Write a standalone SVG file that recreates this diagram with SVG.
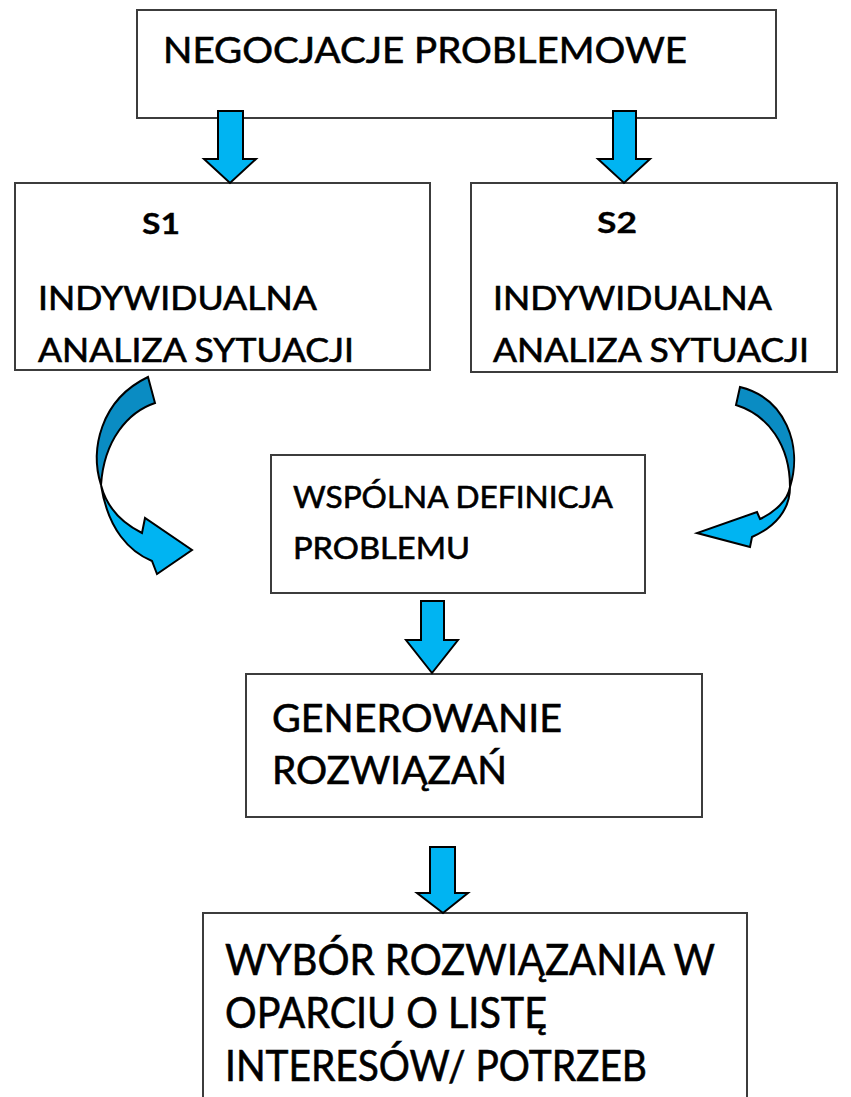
<svg xmlns="http://www.w3.org/2000/svg" width="851" height="1097" viewBox="0 0 851 1097">
<style>
.box{fill:#fff;stroke:#3c3c3c;stroke-width:2}
.t{font-family:Lato,"Open Sans","Liberation Sans",sans-serif;fill:#000;stroke:#000;stroke-width:0.6}
.b{font-weight:bold;stroke-width:0.3}
.arr{fill:#00B4F2;stroke:#000;stroke-width:2;stroke-linejoin:miter}
.dark{fill:#0A8CC3;stroke:#000;stroke-width:2}
.light{fill:#00B4F2;stroke:#000;stroke-width:2}
</style>
<rect width="851" height="1097" fill="#fff"/>
<g id="n-top">
<rect class="box" x="137" y="10" width="639" height="108"/>
<text class="t" x="163" y="63" font-size="36" textLength="524" lengthAdjust="spacingAndGlyphs">NEGOCJACJE PROBLEMOWE</text>
</g>
<g id="n-s1">
<rect class="box" x="15" y="183" width="415" height="187"/>
<text class="t b" x="142" y="234" font-size="28" textLength="38" lengthAdjust="spacingAndGlyphs">S1</text>
<text class="t" x="38" y="310" font-size="32" textLength="279" lengthAdjust="spacingAndGlyphs">INDYWIDUALNA</text>
<text class="t" x="38" y="362" font-size="32" textLength="316" lengthAdjust="spacingAndGlyphs">ANALIZA SYTUACJI</text>
</g>
<g id="n-s2">
<rect class="box" x="471" y="183" width="366" height="189"/>
<text class="t b" x="597" y="233" font-size="28" textLength="40" lengthAdjust="spacingAndGlyphs">S2</text>
<text class="t" x="493" y="310" font-size="32" textLength="279" lengthAdjust="spacingAndGlyphs">INDYWIDUALNA</text>
<text class="t" x="493" y="362" font-size="32" textLength="316" lengthAdjust="spacingAndGlyphs">ANALIZA SYTUACJI</text>
</g>
<g id="n-def">
<rect class="box" x="271" y="455" width="374" height="138"/>
<text class="t" x="293" y="508" font-size="30" textLength="320" lengthAdjust="spacingAndGlyphs">WSPÓLNA DEFINICJA</text>
<text class="t" x="293" y="559" font-size="30" textLength="177" lengthAdjust="spacingAndGlyphs">PROBLEMU</text>
</g>
<g id="n-gen">
<rect class="box" x="246" y="674" width="456" height="143"/>
<text class="t" x="272" y="732" font-size="39" textLength="290" lengthAdjust="spacingAndGlyphs">GENEROWANIE</text>
<text class="t" x="272" y="784" font-size="39" textLength="235" lengthAdjust="spacingAndGlyphs">ROZWIĄZAŃ</text>
</g>
<g id="n-wyb">
<rect class="box" x="203" y="913" width="544" height="200"/>
<text class="t" x="225" y="975" font-size="42" textLength="490" lengthAdjust="spacingAndGlyphs">WYBÓR ROZWIĄZANIA W</text>
<text class="t" x="225" y="1028" font-size="42" textLength="322" lengthAdjust="spacingAndGlyphs">OPARCIU O LISTĘ</text>
<text class="t" x="225" y="1081" font-size="42" textLength="422" lengthAdjust="spacingAndGlyphs">INTERESÓW/ POTRZEB</text>
</g>
<g id="connectors">
<polygon class="arr" points="218,111 243,111 243,159 256,159 230,183 204,159 218,159"/>
<polygon class="arr" points="613,111 636,111 636,159 650,159 624,183 598,159 613,159"/>
<polygon class="arr" points="421,601 444,601 444,640 458,640 432,673 406,640 421,640"/>
<polygon class="arr" points="430,847 455,847 455,893 468,893 443,913 417,893 430,893"/>
<path class="dark" d="M148,377 L155,403 C128,412 104,440 101,485 C90,450 100,400 148,377 Z"/>
<path class="light" d="M101,485 C106,505 120,522 142,533 L145,518 L192,550 L157,574 L152,561 C130,552 108,530 101,485 Z"/>
<path class="dark" d="M740,387 L736,405 C768,415 790,445 790,487 C803,445 785,398 740,387 Z"/>
<path class="light" d="M790,487 C788,500 775,512 760,519 L757,512 L697,533 L750,547 L752,537 C775,527 790,510 790,487 Z"/>
</g>
</svg>
